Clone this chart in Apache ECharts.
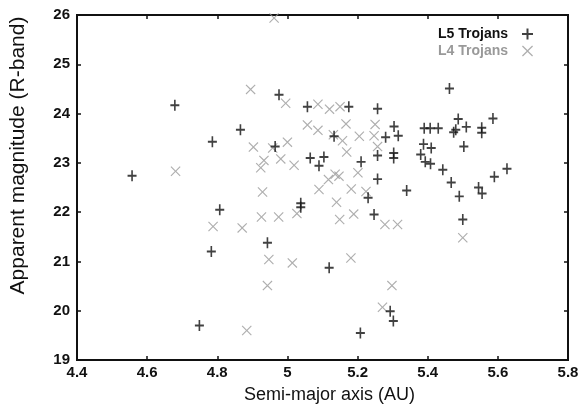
<!DOCTYPE html>
<html>
<head>
<meta charset="utf-8">
<script src="https://cdn.jsdelivr.net/npm/echarts@6/dist/echarts.min.js"></script>
<style>html,body{margin:0;padding:0;background:#fff}#c{width:587px;height:410px}</style>
</head>
<body>
<div id="c"></div>
<script>
var xTicks = [4.4, 4.6, 4.8, 5.0, 5.2, 5.4, 5.6, 5.8];
var yTicks = [19, 20, 21, 22, 23, 24, 25, 26];
var seriesNames = ['L5 Trojans', 'L4 Trojans'];
var l5A = [4.557,4.679,4.786,4.807,4.783,4.749,4.866,4.976,4.965,4.943,5.057,5.175,5.257,5.133,5.065,5.104,5.09,5.21,5.257,5.304,5.316,5.303,5.303,5.257,5.34,5.038,5.038,5.23,5.247,5.119,5.293,5.302,5.208,5.462,5.39,5.407,5.43,5.388,5.41,5.38,5.393,5.408,5.443,5.474,5.48,5.487,5.51,5.503,5.554,5.554,5.586,5.626,5.467,5.49,5.545,5.555,5.5,5.59,5.28];
var l5M = [22.74,24.17,23.43,22.05,21.2,19.7,23.67,24.38,23.33,21.38,24.14,24.14,24.1,23.54,23.1,23.12,22.94,23.02,23.15,23.74,23.55,23.2,23.1,22.67,22.44,22.18,22.1,22.29,21.95,20.87,19.99,19.79,19.55,24.51,23.7,23.7,23.7,23.38,23.3,23.17,23.02,22.98,22.86,23.62,23.67,23.89,23.73,23.33,23.71,23.61,23.9,22.88,22.6,22.32,22.5,22.38,21.85,22.72,23.52];
var l4A = [4.681,4.788,4.871,4.962,4.895,4.995,5.087,5.12,5.15,5.057,5.087,5.167,5.131,5.157,5.205,5.25,5.247,5.257,4.903,5.0,4.958,4.933,4.981,4.924,5.019,5.169,5.136,5.117,5.147,5.201,5.09,5.182,5.224,4.929,4.926,4.975,5.027,5.14,5.149,5.189,5.278,5.314,4.947,5.014,5.181,4.943,5.298,5.271,4.884,5.5];
var l4M = [22.83,21.71,21.68,25.94,24.49,24.21,24.19,24.09,24.14,23.77,23.66,23.79,23.57,23.45,23.54,23.78,23.55,23.33,23.32,23.42,23.3,23.05,23.08,22.9,22.95,23.22,22.77,22.66,22.73,22.8,22.46,22.47,22.42,22.41,21.9,21.9,21.97,22.2,21.85,21.96,21.75,21.75,21.04,20.97,21.07,20.51,20.51,20.07,19.6,21.48];

function pairs(a, m) { return a.map(function (v, i) { return [v, m[i]]; }); }

var plusPath = 'path://M4.1,0H5.9V4.1H10V5.9H5.9V10H4.1V5.9H0V4.1H4.1Z';
var crossPath = 'path://M0,0.8L0.8,0L5,4.2L9.2,0L10,0.8L5.8,5L10,9.2L9.2,10L5,5.8L0.8,10L0,9.2L4.2,5Z';
var font = 'Liberation Sans, Arial, sans-serif';

var chart = echarts.init(document.getElementById('c'), null, {renderer: 'canvas'});
var axisCommon = {
  axisLine: {show: true, onZero: false, lineStyle: {color: '#111', width: 2}},
  axisTick: {show: true, inside: true, length: 4, lineStyle: {color: '#111', width: 1.5}},
  splitLine: {show: false}
};
chart.setOption({
  animation: false,
  backgroundColor: '#fff',
  grid: {left: 77, right: 19, top: 15, bottom: 50, show: true, borderColor: '#111', borderWidth: 2},
  legend: {
    orient: 'vertical', right: 49, top: 22, align: 'right', itemGap: 3,
    itemWidth: 11, itemHeight: 11,
    data: [
      {name: seriesNames[0], icon: plusPath, textStyle: {color: '#111'}},
      {name: seriesNames[1], icon: crossPath, textStyle: {color: '#999'}}
    ],
    textStyle: {fontFamily: font, fontSize: 14, fontWeight: 'bold', padding: [0, 9, 0, 0]}
  },
  xAxis: [
    Object.assign({
      type: 'value', min: xTicks[0], max: xTicks[xTicks.length - 1], interval: 0.2, position: 'bottom',
      name: 'Semi-major axis (AU)', nameLocation: 'middle', nameGap: 26,
      nameTextStyle: {fontFamily: font, fontSize: 18, color: '#111', padding: [0, 0, 0, 14]},
      axisLabel: {fontFamily: font, fontSize: 15, fontWeight: 'bold', color: '#111', margin: 5,
        formatter: function (v) { return String(+v.toFixed(1)); }}
    }, axisCommon),
    Object.assign({
      type: 'value', min: xTicks[0], max: xTicks[xTicks.length - 1], interval: 0.2, position: 'top',
      axisLabel: {show: false}
    }, axisCommon)
  ],
  yAxis: [
    Object.assign({
      type: 'value', min: yTicks[0], max: yTicks[yTicks.length - 1], interval: 1, position: 'left',
      name: 'Apparent magnitude (R-band)', nameLocation: 'middle', nameGap: 48,
      nameTextStyle: {fontFamily: font, fontSize: 21, color: '#111', padding: [0, 0, 0, 64]},
      axisLabel: {fontFamily: font, fontSize: 15, fontWeight: 'bold', color: '#111', margin: 7}
    }, axisCommon),
    Object.assign({
      type: 'value', min: yTicks[0], max: yTicks[yTicks.length - 1], interval: 1, position: 'right',
      axisLabel: {show: false}
    }, axisCommon)
  ],
  series: [
    {
      name: seriesNames[0], type: 'scatter', data: pairs(l5A, l5M),
      symbol: plusPath, symbolSize: [9, 11], itemStyle: {color: '#111'}, z: 3
    },
    {
      name: seriesNames[1], type: 'scatter', data: pairs(l4A, l4M),
      symbol: crossPath, symbolSize: 10, itemStyle: {color: '#9a9a9a'}, z: 2
    }
  ]
});
</script>
</body>
</html>
